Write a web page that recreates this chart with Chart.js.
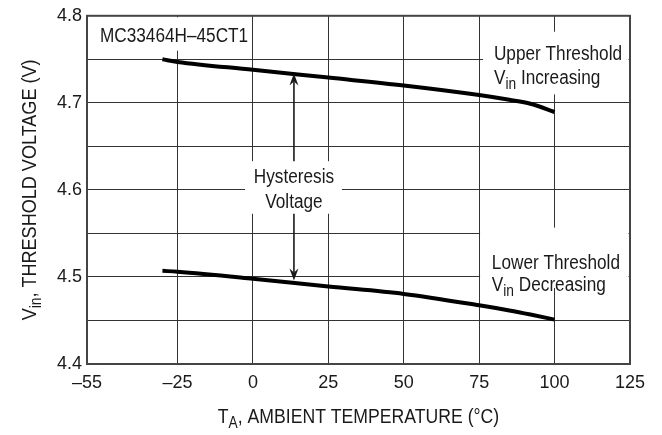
<!DOCTYPE html>
<html>
<head>
<meta charset="utf-8">
<script src="https://cdn.jsdelivr.net/npm/chart.js@4"></script>
<style>
html,body{margin:0;padding:0;background:#fff;}
#wrap{width:662px;height:435px;position:relative;}
</style>
</head>
<body>
<div id="wrap"><canvas id="c" width="662" height="435"></canvas></div>
<script>
// ---- data ----
const temps = [-30, -25, 0, 25, 50, 75, 85, 92, 100];
const upperThreshold = [4.750, 4.747, 4.738, 4.729, 4.720, 4.709, 4.7035, 4.699, 4.6895];
const lowerThreshold = [4.507, 4.506, 4.498, 4.489, 4.4805, 4.4674, 4.4615, 4.4568, 4.451];
const xTicks = [-55, -25, 0, 25, 50, 75, 100, 125];
const xTickLabels = ['\u201355', '\u201325', '0', '25', '50', '75', '100', '125'];
const yTicks = [4.4, 4.45, 4.5, 4.55, 4.6, 4.65, 4.7, 4.75, 4.8];
const yTickLabels = ['4.4', '', '4.5', '', '4.6', '', '4.7', '', '4.8'];

const REG = "'Liberation Sans', Arial, sans-serif";
const INK = '#1a1a1a';
const SX = 0.86; // horizontal condensing of annotation text

// annotation layout (data units)
const boxes = [
  {x0: -55, x1: -1.0, y0: 4.760, y1: 4.8},
  {x0: -2.6, x1: 29.5, y0: 4.5726, y1: 4.633},
  {x0: 76.3, x1: 124.7, y0: 4.7097, y1: 4.7817},
  {x0: 75.3, x1: 124.7, y0: 4.4874, y1: 4.5566}
];
const labels = [
  {parts: [['MC33464H\u201345CT1', false]], x: -50.7, y: 4.776, align: 'left'},
  {parts: [['Hysteresis', false]], x: 13.6, y: 4.614, align: 'center'},
  {parts: [['Voltage', false]], x: 13.6, y: 4.585, align: 'center'},
  {parts: [['Upper Threshold', false]], x: 79.9, y: 4.7554, align: 'left'},
  {parts: [['V', false], ['in', true], [' Increasing', false]], x: 79.9, y: 4.728, align: 'left'},
  {parts: [['Lower Threshold', false]], x: 79.2, y: 4.5154, align: 'left'},
  {parts: [['V', false], ['in', true], [' Decreasing', false]], x: 79.2, y: 4.4903, align: 'left'}
];
const arrow = {x: 13.6, upTip: 4.7337, upTail: 4.633, downTail: 4.5726, downTip: 4.496};

function drawParts(ctx, parts, x, y, size, family, align) {
  const subSize = Math.round(size * 0.78);
  let w = 0;
  parts.forEach(p => {
    ctx.font = (p[1] ? subSize : size) + 'px ' + family;
    w += ctx.measureText(p[0]).width;
  });
  ctx.save();
  ctx.translate(x, y);
  ctx.scale(SX, 1);
  let cx = align === 'center' ? -w / 2 : 0;
  ctx.textAlign = 'left';
  ctx.textBaseline = 'middle';
  parts.forEach(p => {
    ctx.font = (p[1] ? subSize : size) + 'px ' + family;
    ctx.fillText(p[0], cx, p[1] ? size * 0.32 : 0);
    cx += ctx.measureText(p[0]).width;
  });
  ctx.restore();
}

function arrowHead(ctx, x, tipY, dir) {
  const L = 12, W = 4.5;
  ctx.beginPath();
  ctx.moveTo(x, tipY);
  ctx.lineTo(x - W, tipY - dir * L);
  ctx.lineTo(x, tipY - dir * (L - 4));
  ctx.lineTo(x + W, tipY - dir * L);
  ctx.closePath();
  ctx.fill();
}

const annot = {
  id: 'annot',
  beforeDatasetsDraw(chart) {
    const {ctx, scales: {x, y}} = chart;
    ctx.save();
    ctx.fillStyle = '#fff';
    boxes.forEach(b => {
      const l = Math.max(x.getPixelForValue(b.x0), chart.chartArea.left + 1.5);
      const r = Math.min(x.getPixelForValue(b.x1), chart.chartArea.right - 1.5);
      const t = Math.max(y.getPixelForValue(b.y1), chart.chartArea.top + 1.5);
      const btm = y.getPixelForValue(b.y0);
      ctx.fillRect(l, t, r - l, btm - t);
    });
    ctx.restore();
  },
  afterDatasetsDraw(chart) {
    const {ctx, scales: {x, y}, chartArea} = chart;
    ctx.save();
    ctx.fillStyle = INK;
    labels.forEach(l => {
      drawParts(ctx, l.parts, x.getPixelForValue(l.x), y.getPixelForValue(l.y), 20, REG, l.align);
    });
    const ax = x.getPixelForValue(arrow.x);
    ctx.strokeStyle = INK;
    ctx.lineWidth = 1.6;
    ctx.beginPath();
    ctx.moveTo(ax, y.getPixelForValue(arrow.upTail));
    ctx.lineTo(ax, y.getPixelForValue(arrow.upTip) + 8);
    ctx.moveTo(ax, y.getPixelForValue(arrow.downTail));
    ctx.lineTo(ax, y.getPixelForValue(arrow.downTip) - 8);
    ctx.stroke();
    arrowHead(ctx, ax, y.getPixelForValue(arrow.upTip), -1);
    arrowHead(ctx, ax, y.getPixelForValue(arrow.downTip), 1);
    const cxm = (chartArea.left + chartArea.right) / 2;
    drawParts(ctx, [['T', false], ['A', true], [', AMBIENT TEMPERATURE (\u00B0C)', false]], cxm, 417, 20.5, REG, 'center');
    ctx.translate(30, (chartArea.top + chartArea.bottom) / 2);
    ctx.rotate(-Math.PI / 2);
    drawParts(ctx, [['V', false], ['in', true], [', THRESHOLD VOLTAGE (V)', false]], 0, 0, 21, REG, 'center');
    ctx.restore();
  }
};

function series(ys) { return temps.map((t, i) => ({x: t, y: ys[i]})); }

new Chart(document.getElementById('c'), {
  type: 'line',
  data: {
    datasets: [
      {label: 'Upper Threshold', data: series(upperThreshold), borderColor: '#000', borderWidth: 4,
       pointRadius: 0, cubicInterpolationMode: 'monotone', fill: false, borderCapStyle: 'butt'},
      {label: 'Lower Threshold', data: series(lowerThreshold), borderColor: '#000', borderWidth: 4,
       pointRadius: 0, cubicInterpolationMode: 'monotone', fill: false, borderCapStyle: 'butt'}
    ]
  },
  options: {
    responsive: false,
    animation: false,
    devicePixelRatio: 1,
    layout: {padding: {left: 0, right: 32, top: 14, bottom: 0}},
    plugins: {legend: {display: false}, tooltip: {enabled: false}},
    scales: {
      x: {
        type: 'linear', min: -55, max: 125,
        afterBuildTicks: s => { s.ticks = xTicks.map(v => ({value: v})); },
        afterFit: s => { s.height = 71; },
        ticks: {
          autoSkip: false, maxRotation: 0, padding: 8, color: INK,
          font: {family: REG, size: 18},
          callback: (v, i) => xTickLabels[i]
        },
        grid: {color: '#333', lineWidth: 1, drawTicks: false},
        border: {color: '#444', width: 2}
      },
      y: {
        type: 'linear', min: 4.4, max: 4.8,
        afterBuildTicks: s => { s.ticks = yTicks.map(v => ({value: v})); },
        afterFit: s => { s.width = 87; },
        ticks: {
          autoSkip: false, padding: 5, color: INK,
          font: {family: REG, size: 18},
          callback: (v, i) => yTickLabels[i]
        },
        grid: {color: '#333', lineWidth: 1, drawTicks: false},
        border: {color: '#444', width: 2}
      }
    }
  },
  plugins: [annot, {
    id: 'frame',
    afterDraw(chart) {
      const {ctx, chartArea: a} = chart;
      ctx.save();
      ctx.strokeStyle = '#444';
      ctx.lineWidth = 2;
      ctx.strokeRect(a.left, a.top, a.right - a.left, a.bottom - a.top);
      ctx.restore();
    }
  }]
});
</script>
</body>
</html>
